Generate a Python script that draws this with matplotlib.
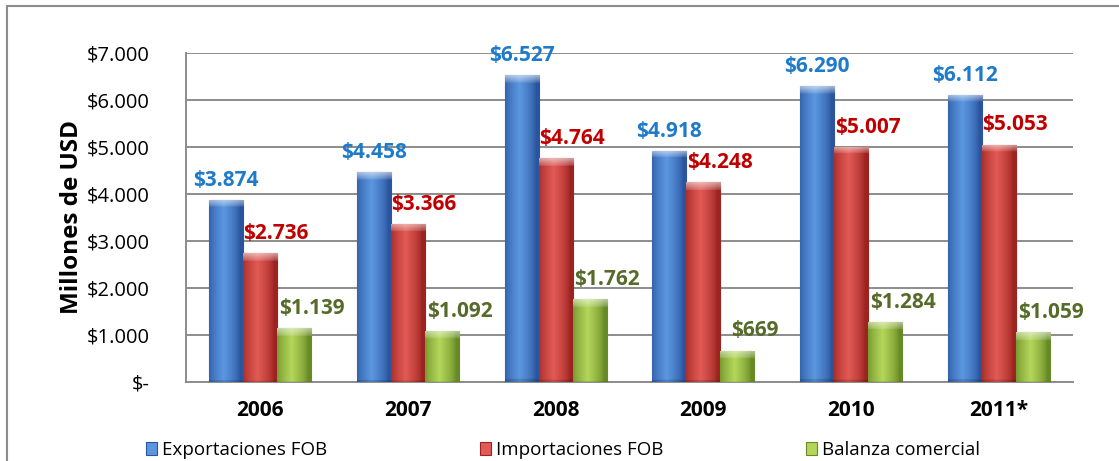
import numpy as np
import matplotlib
matplotlib.use('Agg')
import matplotlib.pyplot as plt
from matplotlib.patches import Rectangle
from matplotlib.colors import to_rgb

plt.rcParams['font.family'] = ['Open Sans', 'DejaVu Sans']

years = ['2006', '2007', '2008', '2009', '2010', '2011*']
exportaciones = [3874, 4458, 6527, 4918, 6290, 6112]
importaciones = [2736, 3366, 4764, 4248, 5007, 5053]
balanza = [1139, 1092, 1762, 669, 1284, 1059]
series_names = ['Exportaciones FOB', 'Importaciones FOB', 'Balanza comercial']
ytick_vals = [0, 1000, 2000, 3000, 4000, 5000, 6000, 7000]
ytick_labels = ['$-', '$1.000', '$2.000', '$3.000', '$4.000', '$5.000', '$6.000', '$7.000']

# bar colours: (dark edge, light centre), label colour
bar_cols = [('#2a559e', '#5b97e0'), ('#9c2320', '#e25a55'), ('#678a25', '#b3d65a')]
label_cols = ['#1f7bc9', '#c00000', '#566b2a']
label_dx = [0.0, 0.11, 0.12]


def fmt(v):
    return '$' + f'{v:,}'.replace(',', '.')


def bar_image(dark, light, h, bevel=170):
    d = np.array(to_rgb(dark))
    l = np.array(to_rgb(light))
    u = np.linspace(0, 1, 60)
    prof = np.clip(1 - np.abs(u - 0.42) * 2.1, 0, 1) ** 0.7
    row = d[None, :] + (l - d)[None, :] * prof[:, None]
    nrows = 200
    img = np.repeat(row[None, :, :], nrows, axis=0)
    nb = max(1, int(nrows * min(bevel / h, 0.5)))
    top = np.linspace(0.55, 0.15, nb)
    for i in range(nb):
        img[i] = img[i] + (1 - img[i]) * top[i]
    # darker bottom edge
    img[-2:] *= 0.85
    return img


fig = plt.figure(figsize=(11.19, 4.61), dpi=100)
ax = fig.add_axes([186 / 1119, 79 / 461, 887 / 1119, 329 / 461])

x = np.arange(len(years))
w = 0.23
data = [exportaciones, importaciones, balanza]
for k, vals in enumerate(data):
    offs = (k - 1) * w
    bars = ax.bar(x + offs, vals, w, color=bar_cols[k][1], edgecolor=bar_cols[k][0],
                  linewidth=0.8, zorder=3)
    for b, v in zip(bars, vals):
        x0 = b.get_x()
        im = ax.imshow(bar_image(bar_cols[k][0], bar_cols[k][1], v),
                       extent=(x0, x0 + w, 0, v), aspect='auto', zorder=3.5,
                       interpolation='bilinear')
        im.set_clip_path(b)
        ax.text(b.get_x() + w / 2 + label_dx[k], v + 300, fmt(v), ha='center',
                va='baseline', fontsize=15, fontweight='bold', color=label_cols[k],
                zorder=5)

ax.set_xlim(-0.5, len(years) - 0.5)
ax.set_ylim(0, 7000)
ax.set_yticks(ytick_vals)
ax.set_yticklabels(ytick_labels, fontsize=14.5)
ax.set_xticks(x)
ax.set_xticklabels(years, fontsize=15, fontweight='bold')
ax.tick_params(axis='both', length=0)
ax.tick_params(axis='y', pad=26)
ax.tick_params(axis='x', pad=13)
ax.yaxis.grid(True, color='#8c8c8c', linewidth=1.4, zorder=0)
ax.set_axisbelow(True)
for s in ['top', 'right']:
    ax.spines[s].set_visible(False)
for s in ['left', 'bottom']:
    ax.spines[s].set_color('#8c8c8c')
    ax.spines[s].set_linewidth(1.4)
ax.set_ylabel('Millones de USD', fontsize=17.5, fontweight='bold', labelpad=2)

# outer chart border (cut by the image edge)
fig.add_artist(Rectangle((7 / 1119, -0.1), 1.2, (461 - 6) / 461 + 0.1,
                         transform=fig.transFigure, fill=False,
                         edgecolor='#8c8c8c', linewidth=1.5))

# legend
leg_x = [146, 480, 806]
for k, name in enumerate(series_names):
    fig.add_artist(Rectangle((leg_x[k] / 1119, 6 / 461), 11 / 1119, 13 / 461,
                             transform=fig.transFigure, facecolor=bar_cols[k][1],
                             edgecolor=bar_cols[k][0], linewidth=0.8))
    fig.text((leg_x[k] + 16) / 1119, 6 / 461, name, fontsize=13.5, va='baseline',
             ha='left', color='#000000')

fig.savefig('out.png', dpi=100)
